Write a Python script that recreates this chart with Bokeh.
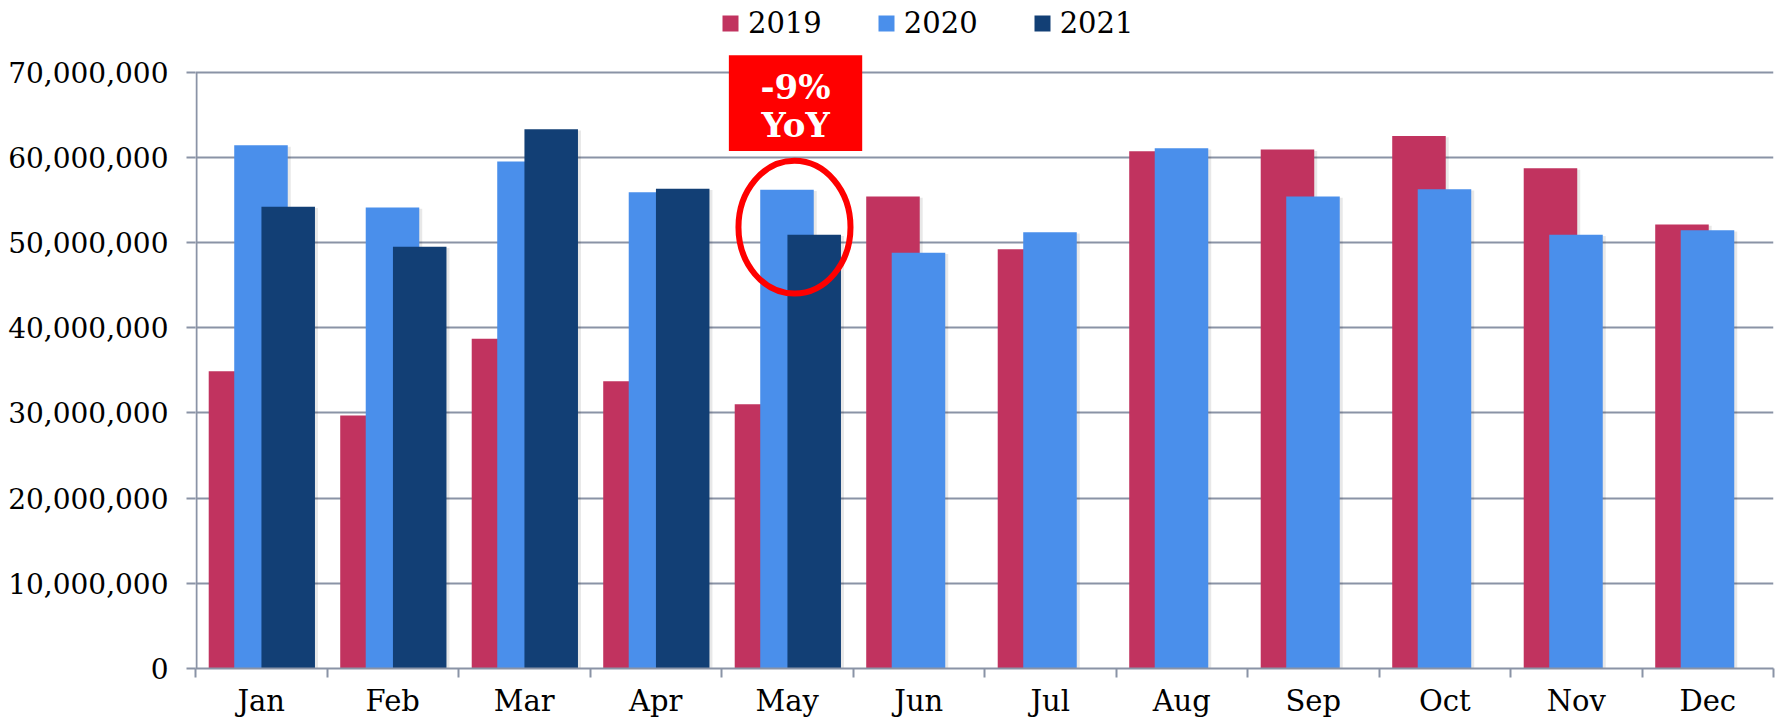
import numpy as np
from bokeh.plotting import figure
from bokeh.models import (Range1d, FixedTicker, NumeralTickFormatter, Legend, LegendItem,
                          BoxAnnotation, Label, ColumnDataSource)
from bokeh.embed import file_html
from bokeh.resources import INLINE

# ---- data ----
months = ["Jan", "Feb", "Mar", "Apr", "May", "Jun", "Jul", "Aug", "Sep", "Oct", "Nov", "Dec"]
series_names = ["2019", "2020", "2021"]
v2019 = [34_900_000, 29_700_000, 38_700_000, 33_700_000, 31_000_000, 55_400_000,
         49_200_000, 60_700_000, 60_900_000, 62_500_000, 58_700_000, 52_100_000]
v2020 = [61_400_000, 54_100_000, 59_500_000, 55_900_000, 56_200_000, 48_800_000,
         51_200_000, 61_050_000, 55_400_000, 56_250_000, 50_900_000, 51_450_000]
v2021 = [54_200_000, 49_500_000, 63_300_000, 56_300_000, 50_900_000]
y_ticks = [0, 10_000_000, 20_000_000, 30_000_000, 40_000_000, 50_000_000, 60_000_000, 70_000_000]
annot_text = ["-9%", "YoY"]

# ---- styles ----
colors = ["#C1335F", "#4A8FEB", "#123F75"]
offsets = [-0.196, -0.002, 0.205]
bar_w = 0.407
grid_col = "#8A93A6"
serif = "DejaVu Serif"
y_top = 78_400_000      # extra headroom above the 70M axis end, for legend & callout
axis_top = 70_000_000

p = figure(width=1776, height=720, output_backend="svg", toolbar_location=None,
           x_range=Range1d(0, 12), y_range=Range1d(0, y_top),
           min_border_left=195, min_border_right=3, min_border_top=0, min_border_bottom=51)
p.outline_line_color = None
p.background_fill_color = "white"
p.border_fill_color = "white"

px = 12 / 1578.0  # one pixel in x data units
renderers = []
for vals, col, off in zip([v2019, v2020, v2021], colors, offsets):
    n = len(vals)
    xs = np.arange(n) + 0.5 + off
    shadow = ColumnDataSource(dict(x=xs + 3 * px, top=np.array(vals) - 150_000))
    p.vbar(x="x", top="top", bottom=0, width=bar_w, source=shadow,
           fill_color="#000000", fill_alpha=0.09, line_color=None)
    src = ColumnDataSource(dict(x=xs, top=vals))
    r = p.vbar(x="x", top="top", bottom=0, width=bar_w, source=src,
               fill_color=col, line_color=None)
    renderers.append(r)

# axes
xa = p.xaxis[0]
xa.ticker = FixedTicker(ticks=[i + 0.5 for i in range(len(months))],
                        minor_ticks=list(range(len(months) + 1)))
xa.major_label_overrides = {i + 0.5: m for i, m in enumerate(months)}
xa.major_tick_line_color = None
xa.major_tick_out = 0
xa.major_tick_in = 0
xa.minor_tick_out = 9
xa.minor_tick_in = 0
xa.minor_tick_line_color = grid_col
xa.minor_tick_line_width = 2
xa.axis_line_color = grid_col
xa.axis_line_width = 2
xa.major_label_text_font = serif
xa.major_label_text_font_size = "29px"
xa.major_label_text_line_height = 1.0
xa.major_label_text_color = "black"
xa.major_label_standoff = 6

ya = p.yaxis[0]
ya.ticker = FixedTicker(ticks=y_ticks)
ya.formatter = NumeralTickFormatter(format="0,0")
ya.major_tick_out = 9
ya.major_tick_in = 0
ya.major_tick_line_color = grid_col
ya.major_tick_line_width = 2
ya.minor_tick_line_color = None
ya.axis_line_color = None
ya.major_label_text_font = serif
ya.major_label_text_font_size = "28px"
ya.major_label_text_color = "black"
ya.major_label_standoff = 18

# y axis line only up to the 70M end
p.segment(x0=[px], y0=[0], x1=[px], y1=[axis_top], line_color=grid_col, line_width=2)

p.xgrid.visible = False
p.ygrid.ticker = FixedTicker(ticks=y_ticks)
p.ygrid.grid_line_color = grid_col
p.ygrid.grid_line_width = 2

# legend
legend = Legend(items=[LegendItem(label=s, renderers=[r]) for s, r in zip(series_names, renderers)],
                orientation="horizontal", location=(525, 628), padding=0, margin=0,
                spacing=54, glyph_width=20, glyph_height=20, label_standoff=8,
                border_line_color=None, background_fill_alpha=0,
                label_text_font=serif, label_text_font_size="29px", label_text_color="black")
p.add_layout(legend)

# annotation
box = BoxAnnotation(left=4.056, right=5.07, bottom=60_740_000, top=71_960_000,
                    fill_color="#FF0000", fill_alpha=1.0, line_color=None)
p.add_layout(box)
for txt, yv in zip(annot_text, [68_240_000, 63_750_000]):
    p.add_layout(Label(x=4.563, y=yv, text=txt, text_align="center", text_baseline="middle",
                       text_font=serif, text_font_style="bold", text_font_size="34px",
                       text_color="white"))
p.ellipse(x=[4.555], y=[51_800_000], width=0.852, height=15_590_000,
          fill_color=None, line_color="#FF0000", line_width=6)

open("out.html", "w").write(file_html(p, INLINE))
